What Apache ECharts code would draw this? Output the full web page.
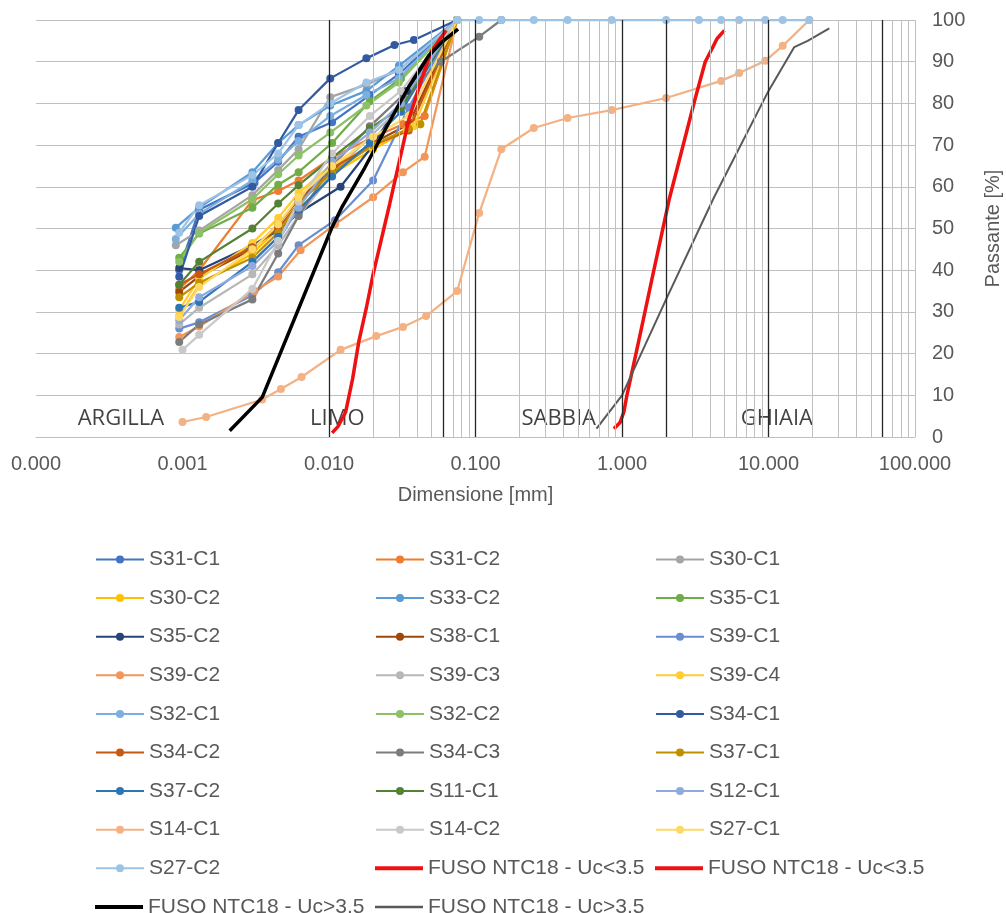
<!DOCTYPE html>
<html>
<head>
<meta charset="utf-8">
<script src="https://cdn.jsdelivr.net/npm/echarts@6/dist/echarts.min.js"></script>
<style>
  html, body { margin: 0; padding: 0; background: #ffffff; }
  #chart { width: 1006px; height: 913px; }
</style>
</head>
<body>
<div id="chart"></div>
<script>
// Grain-size distribution curves: diameter [mm] vs. percent passing [%]
const S31_C1 = [[0.00095,40],[0.0013,54.5],[0.0031,61],[0.0045,66],[0.0062,72],[0.0105,75.5],[0.019,82],[0.03,87],[0.075,100]];
const S31_C2 = [[0.00095,35.5],[0.0013,40],[0.003,56.8],[0.0045,59],[0.0062,61.5],[0.0105,67],[0.019,71.5],[0.032,75],[0.045,77],[0.075,100]];
const S30_C1 = [[0.0009,46],[0.0013,49.5],[0.003,58],[0.0045,64],[0.0062,69],[0.0102,81.5],[0.018,84.5],[0.03,88],[0.075,100]];
const S30_C2 = [[0.00095,29],[0.0013,36.5],[0.003,44],[0.0045,50],[0.0062,54.5],[0.0105,63],[0.02,69],[0.034,73.5],[0.042,75],[0.075,100]];
const S33_C2 = [[0.0009,50.2],[0.0013,55],[0.003,63.5],[0.0045,70.5],[0.0062,74.8],[0.0102,79.5],[0.018,83],[0.03,89],[0.075,100]];
const S35_C1 = [[0.00095,43],[0.0013,48.8],[0.003,55],[0.0045,60.5],[0.0062,63.5],[0.0105,70.5],[0.019,80.5],[0.031,86],[0.075,100]];
const S35_C2 = [[0.00095,40.5],[0.0013,40],[0.003,46],[0.0045,49.5],[0.0062,53.7],[0.012,60],[0.02,70],[0.034,83],[0.075,100]];
const S38_C1 = [[0.00095,34.8],[0.0013,38.5],[0.003,45],[0.0045,51],[0.0062,57],[0.0105,64],[0.02,70.5],[0.035,75],[0.075,100]];
const S39_C1 = [[0.00095,26],[0.0013,27.5],[0.003,34],[0.0045,39.5],[0.0062,46],[0.011,52],[0.02,61.5],[0.035,79],[0.075,100]];
const S39_C2 = [[0.00095,24],[0.0013,26.5],[0.0031,35],[0.0045,38.5],[0.0064,44.8],[0.011,51],[0.02,57.5],[0.032,63.5],[0.045,67.2],[0.075,100]];
const S39_C3 = [[0.00095,27],[0.0013,31],[0.003,39],[0.0045,46],[0.0062,53],[0.0105,63],[0.019,72],[0.031,79],[0.075,100]];
const S39_C4 = [[0.00095,30.5],[0.0013,38],[0.003,46.5],[0.0045,52.5],[0.0062,58.5],[0.0105,65.5],[0.02,69.5],[0.038,74.5],[0.075,100]];
const S32_C1 = [[0.0009,47.5],[0.0013,53.5],[0.003,61.5],[0.0045,66.5],[0.0062,71],[0.0102,77],[0.018,82],[0.03,86],[0.075,100]];
const S32_C2 = [[0.00095,42],[0.0013,49],[0.003,57],[0.0045,63],[0.0062,67.5],[0.0102,73],[0.018,79.5],[0.03,85],[0.075,100]];
const S34_C1 = [[0.00095,38.4],[0.0013,53],[0.003,60],[0.0045,70.5],[0.0062,78.4],[0.0102,86],[0.018,90.8],[0.028,94],[0.038,95.2],[0.075,100]];
const S34_C2 = [[0.00095,36.5],[0.0013,39],[0.003,45.5],[0.0045,50],[0.0062,56],[0.0105,64.5],[0.02,70],[0.035,73.5],[0.075,100]];
const S34_C3 = [[0.00095,22.8],[0.0013,27],[0.003,33],[0.0045,44],[0.0062,53],[0.0105,65],[0.019,74.5],[0.032,82],[0.058,90],[0.106,96],[0.15,100]];
const S37_C1 = [[0.00095,33.5],[0.0013,37],[0.003,43],[0.0045,49],[0.0062,56],[0.0105,63.5],[0.02,70],[0.035,74],[0.042,75],[0.075,100]];
const S37_C2 = [[0.00095,31],[0.0013,32.4],[0.003,42],[0.0045,48],[0.0062,54.5],[0.0105,62.5],[0.019,70.5],[0.031,78],[0.075,100]];
const S11_C1 = [[0.00095,36.5],[0.0013,42],[0.003,50],[0.0045,56],[0.0062,60.4],[0.0105,67],[0.019,74],[0.031,79],[0.075,100]];
const S12_C1 = [[0.00095,28],[0.0013,33.5],[0.003,41],[0.0045,47],[0.0062,55],[0.0105,66],[0.019,73],[0.031,80],[0.075,100]];
const S14_C1 = [[0.001,3.6],[0.00145,4.8],[0.0035,9],[0.0047,11.5],[0.0065,14.4],[0.012,20.9],[0.021,24.2],[0.032,26.4],[0.046,29],[0.075,35],[0.106,53.7],[0.15,69],[0.25,74.1],[0.425,76.5],[0.85,78.4],[2,81.3],[4.75,85.4],[6.3,87.3],[9.5,90.2],[12.5,93.8],[19,100]];
const S14_C2 = [[0.001,20.9],[0.0013,24.5],[0.003,35.5],[0.0045,47],[0.0062,56.5],[0.0105,68],[0.019,77],[0.031,83],[0.075,100]];
const S27_C1 = [[0.00095,28.8],[0.0013,36],[0.003,45],[0.0045,51],[0.0062,57.5],[0.0105,65],[0.02,72],[0.035,77],[0.075,100]];
const S27_C2 = [[0.00095,49],[0.0013,55.6],[0.003,62.8],[0.0045,68],[0.0062,74.8],[0.0102,80],[0.018,85],[0.03,88],[0.075,100],[0.106,100],[0.15,100],[0.25,100],[0.425,100],[0.85,100],[2,100],[3.35,100],[4.75,100],[6.3,100],[9.5,100],[12.5,100],[19,100]];

// NTC18 grading envelopes
const FUSO_LT_FINE   = [[0.0105,1],[0.0115,2.5],[0.013,6],[0.0145,14],[0.016,23],[0.018,31],[0.02,39],[0.026,56],[0.035,76],[0.043,86],[0.05,92.5],[0.063,97.5]];
const FUSO_LT_COARSE = [[0.88,2],[0.97,3.5],[1.03,6],[1.08,10],[1.3,23],[1.65,40],[2.1,57],[3.15,81],[3.7,90],[4.1,93],[4.45,95.5],[5.0,97.5]];
const FUSO_GT_FINE   = [[0.0021,1.5],[0.0035,9.5],[0.0104,50],[0.0122,55],[0.0175,64.5],[0.024,73.5],[0.035,84],[0.048,91.5],[0.058,94.5],[0.076,97.8]];
const FUSO_GT_COARSE = [[0.67,2],[1.0,10],[2.0,33],[4.25,57.5],[10,83],[15,93.5],[18.5,95],[26,98]];

const sampleNames = ['S31-C1','S31-C2','S30-C1','S30-C2','S33-C2','S35-C1','S35-C2','S38-C1','S39-C1',
  'S39-C2','S39-C3','S39-C4','S32-C1','S32-C2','S34-C1','S34-C2','S34-C3','S37-C1','S37-C2',
  'S11-C1','S12-C1','S14-C1','S14-C2','S27-C1','S27-C2'];
const sampleData = [S31_C1,S31_C2,S30_C1,S30_C2,S33_C2,S35_C1,S35_C2,S38_C1,S39_C1,
  S39_C2,S39_C3,S39_C4,S32_C1,S32_C2,S34_C1,S34_C2,S34_C3,S37_C1,S37_C2,
  S11_C1,S12_C1,S14_C1,S14_C2,S27_C1,S27_C2];
const sampleColors = ['#4472C4','#ED7D31','#A5A5A5','#FFC000','#5B9BD5','#70AD47','#264478','#9E480E','#698ED0',
  '#F1975A','#B7B7B7','#FFCD33','#7CAFDD','#8CC168','#335AA1','#C65911','#7C7C7C','#BF9000','#2E75B6',
  '#548235','#8FAADC','#F4B183','#C9C9C9','#FFD966','#9DC3E6'];

const fusoNames = ['FUSO NTC18 - Uc<3.5','FUSO NTC18 - Uc<3.5','FUSO NTC18 - Uc>3.5','FUSO NTC18 - Uc>3.5'];
const fusoData = [FUSO_LT_FINE, FUSO_LT_COARSE, FUSO_GT_FINE, FUSO_GT_COARSE];
const fusoColors = ['#EE1111','#EE1111','#000000','#595959'];
const fusoWidths = [3.5, 3.5, 3.5, 2];

const zoneNames = ['ARGILLA','LIMO','SABBIA','GHIAIA'];
const zoneCenters = [0.00038, 0.0114, 0.37, 11.4];

const TEXT = '#595959';
const FONT = 'Liberation Sans, Arial, sans-serif';

// vertical grid: light log minors, dark decades and class boundaries
const lightX = [0.0001, 100];
for (let e = -4; e <= 1; e++) {
  for (let m = 2; m <= 9; m++) lightX.push(+(m * Math.pow(10, e)).toPrecision(3));
}
const darkX = [0.001, 0.002, 0.01, 0.06, 0.1, 1, 2, 10, 60];

const series = [];
series.push({
  type: 'line', data: [], silent: true, z: 0,
  markLine: {
    silent: true, animation: false, symbol: ['none', 'none'], label: { show: false },
    data: lightX.filter(v => darkX.indexOf(v) < 0).map(v => ({ xAxis: v, lineStyle: { color: '#C0C0C0', width: 1, type: 'solid' } }))
      .concat(darkX.map(v => ({ xAxis: v, lineStyle: { color: '#262626', width: 1.3, type: 'solid' } })))
  }
});
series.push({
  type: 'scatter', silent: true, z: 1, symbolSize: 0,
  data: zoneNames.map((n, i) => ({ name: n, value: [zoneCenters[i], 4.3] })),
  label: { show: true, position: 'inside', formatter: p => p.name, fontSize: 22, color: '#111111', fontFamily: 'Open Sans, sans-serif' }
});
sampleNames.forEach((n, i) => {
  series.push({
    name: n, type: 'line', data: sampleData[i], z: 2,
    symbol: 'circle', symbolSize: 8, showSymbol: true,
    lineStyle: { width: 2.25, color: sampleColors[i] },
    itemStyle: { color: sampleColors[i] },
    emphasis: { disabled: true }
  });
});
fusoNames.forEach((n, i) => {
  series.push({
    name: n, type: 'line', data: fusoData[i], z: 3,
    symbol: 'none', showSymbol: false,
    lineStyle: { width: fusoWidths[i], color: fusoColors[i] },
    itemStyle: { color: fusoColors[i] },
    emphasis: { disabled: true }
  });
});

// legend laid out as a 3-column table
const legendNames = sampleNames.concat(fusoNames);
const colX = [95, 375, 655];
const rowY0 = 558, rowStep = 38.6;
const legends = legendNames.map((n, i) => {
  const r = Math.floor(i / 3), c = i % 3;
  const isFuso = i >= sampleNames.length;
  const fi = i - sampleNames.length;
  const item = isFuso
    ? { name: n, icon: 'rect', itemStyle: { color: fusoColors[fi] } }
    : { name: n };
  const h = isFuso ? (fi === 3 ? 2.5 : 4) : 10;
  return {
    left: colX[c], top: rowY0 + r * rowStep - 9, padding: 0,
    itemWidth: 48, itemHeight: h, itemGap: 0, selectedMode: false,
    textStyle: { fontSize: 21, color: TEXT, fontFamily: FONT },
    data: [item]
  };
});

const chart = echarts.init(document.getElementById('chart'));
chart.setOption({
  animation: false,
  backgroundColor: '#ffffff',
  grid: { left: 36, right: 91, top: 20, bottom: 476, containLabel: false, outerBoundsMode: 'none' },
  legend: legends,
  xAxis: {
    type: 'log', logBase: 10, min: 0.0001, max: 100, splitNumber: 6,
    axisLine: { show: true, lineStyle: { color: '#C0C0C0', width: 1 } },
    axisTick: { show: false },
    splitLine: { show: false },
    axisLabel: { formatter: v => Number(v).toFixed(3), fontSize: 20, color: TEXT, fontFamily: FONT, margin: 17, showMinLabel: true, showMaxLabel: true },
    name: 'Dimensione [mm]', nameLocation: 'middle', nameGap: 48,
    nameTextStyle: { fontSize: 20, color: TEXT, fontFamily: FONT }
  },
  yAxis: {
    type: 'value', position: 'right', min: 0, max: 100, interval: 10,
    axisLine: { show: false }, axisTick: { show: false },
    splitLine: { show: true, lineStyle: { color: '#C0C0C0', width: 1 } },
    axisLabel: { fontSize: 20, color: TEXT, fontFamily: FONT, margin: 17 },
    name: 'Passante [%]', nameLocation: 'middle', nameGap: 68, nameRotate: 90,
    nameTextStyle: { fontSize: 20, color: TEXT, fontFamily: FONT }
  },
  series: series
});
</script>
</body>
</html>
